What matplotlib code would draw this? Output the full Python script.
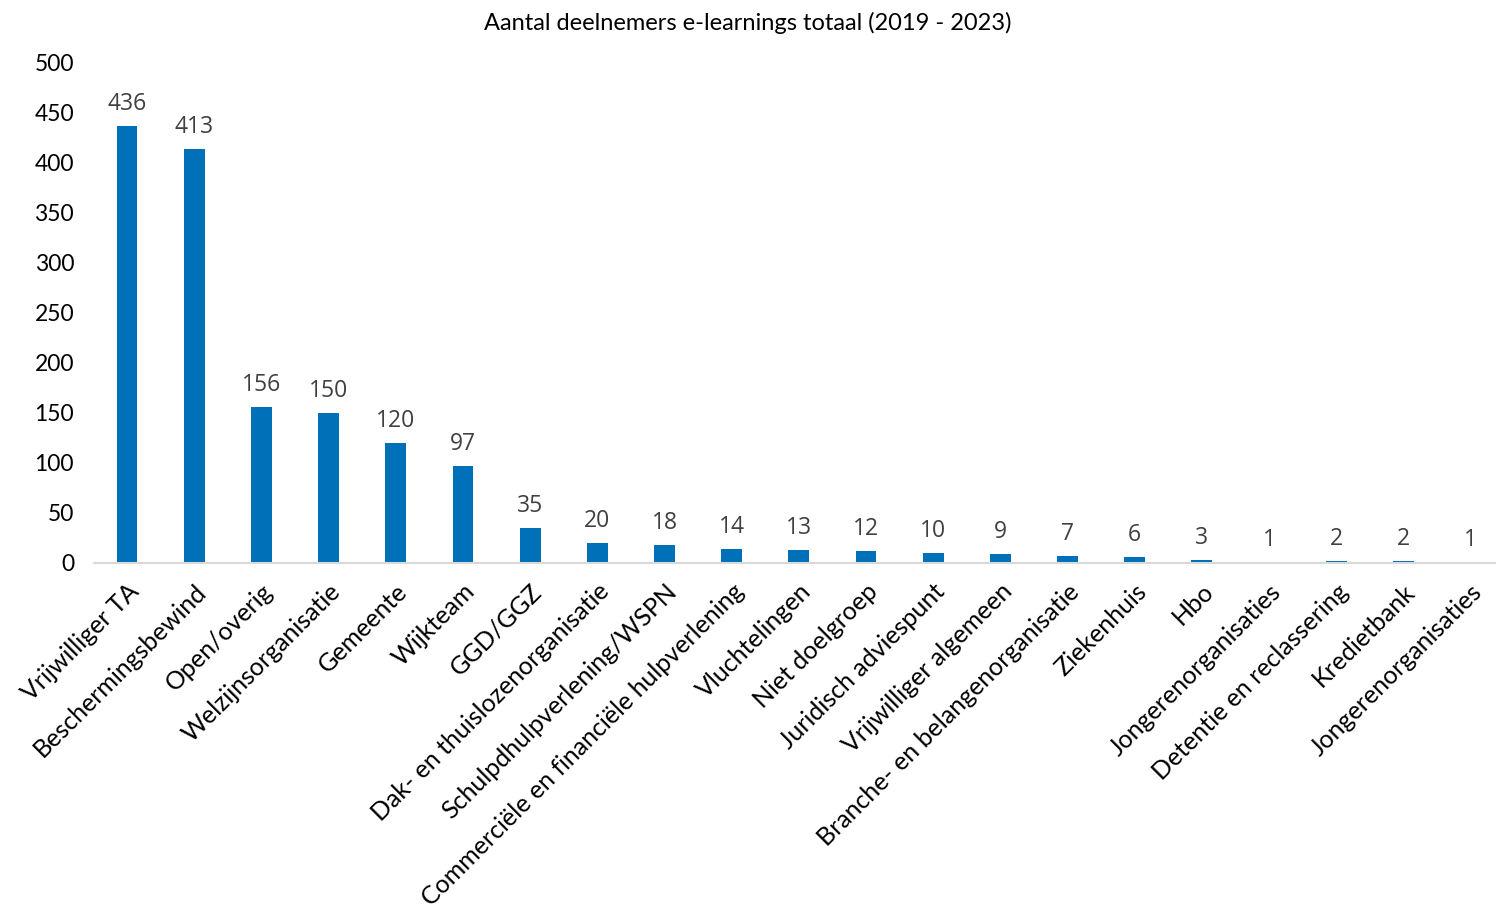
import matplotlib
matplotlib.use("Agg")
import matplotlib.pyplot as plt

categories = [
    "Vrijwilliger TA", "Beschermingsbewind", "Open/overig", "Welzijnsorganisatie",
    "Gemeente", "Wijkteam", "GGD/GGZ", "Dak- en thuislozenorganisatie",
    "Schulpdhulpverlening/WSPN", "Commerciële en financiële hulpverlening",
    "Vluchtelingen", "Niet doelgroep", "Juridisch adviespunt", "Vrijwilliger algemeen",
    "Branche- en belangenorganisatie", "Ziekenhuis", "Hbo", "Jongerenorganisaties",
    "Detentie en reclassering", "Kredietbank", "Jongerenorganisaties",
]
deelnemers = [436, 413, 156, 150, 120, 97, 35, 20, 18, 14, 13, 12, 10, 9, 7, 6, 3, 1, 2, 2, 1]
y_ticks = list(range(0, 501, 50))

bar_color = "#0070B8"
label_font = "Lato"

fig = plt.figure(figsize=(14.96, 9.08), dpi=100)
ax = fig.add_axes([0.0625, 0.38, 0.9375, 0.5517])

x = list(range(len(categories)))
ax.bar(x, deelnemers, width=0.31, color=bar_color)

for xi, v in zip(x, deelnemers):
    ax.text(xi, v + 10, str(v), ha="center", va="bottom",
            fontsize=16.5, color="#404040", family="Open Sans")

ax.set_ylim(0, 500)
ax.set_xlim(-0.5, 20.38)
ax.set_yticks(y_ticks)
ax.set_yticklabels([str(t) for t in y_ticks], fontsize=16.5, family=label_font)
ax.set_xticks(x)
ax.set_xticklabels(categories, rotation=45, ha="right", rotation_mode="anchor",
                   fontsize=18, family=label_font)
ax.tick_params(axis="both", length=0)
ax.tick_params(axis="x", pad=12)
ax.tick_params(axis="y", pad=14)

for side in ["top", "right", "left"]:
    ax.spines[side].set_visible(False)
ax.spines["bottom"].set_color("#D9D9D9")
ax.spines["bottom"].set_linewidth(1.5)

fig.text(0.5, 0.975, "Aantal deelnemers e-learnings totaal (2019 - 2023)",
         ha="center", va="center", fontsize=17, family=label_font)

fig.savefig("out.png", dpi=100)
